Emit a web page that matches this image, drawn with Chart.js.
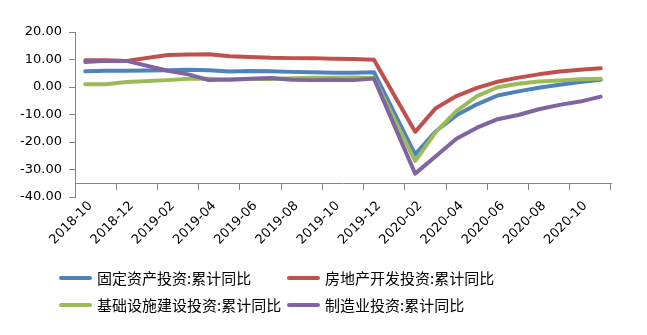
<!DOCTYPE html>
<html>
<head>
<meta charset="utf-8">
<script src="https://cdn.jsdelivr.net/npm/chart.js"></script>
<style>
  body { margin: 0; background: #fff; }
  #wrap { position: relative; width: 647px; height: 335px; }
  .legend { position: absolute; font-family: "Noto Sans CJK SC", sans-serif; font-size: 15px; color: #000; white-space: nowrap; display: flex; align-items: center; }
  .legend i { display: inline-block; width: 33px; height: 4px; border-radius: 2px; margin-right: 5px; }
</style>
</head>
<body>
<div id="wrap">
  <canvas id="invest-chart" width="647" height="335"></canvas>
</div>
<script>
// 月份（1月无单独数据，留空）
const months = [
  '2018-10', '2018-11', '2018-12',
  '2019-01', '2019-02', '2019-03', '2019-04', '2019-05', '2019-06',
  '2019-07', '2019-08', '2019-09', '2019-10', '2019-11', '2019-12',
  '2020-01', '2020-02', '2020-03', '2020-04', '2020-05', '2020-06',
  '2020-07', '2020-08', '2020-09', '2020-10', '2020-11'
];

const seriesNames = ['固定资产投资:累计同比', '房地产开发投资:累计同比', '基础设施建设投资:累计同比', '制造业投资:累计同比'];
const seriesColors = ['#4F81BD', '#C0504D', '#9BBB59', '#8064A2'];

const fixedAsset = [5.7, 5.9, 5.9, null, 6.1, 6.3, 6.1, 5.6, 5.8, 5.7, 5.5, 5.4, 5.2, 5.2, 5.4, null, -24.5, -16.1, -10.3, -6.3, -3.1, -1.6, -0.3, 0.8, 1.8, 2.6];
const realEstate = [9.7, 9.7, 9.5, null, 11.6, 11.8, 11.9, 11.2, 10.9, 10.6, 10.5, 10.5, 10.3, 10.2, 9.9, null, -16.3, -7.7, -3.3, -0.3, 1.9, 3.4, 4.6, 5.6, 6.3, 6.8];
const infra = [1.0, 1.0, 1.8, null, 2.5, 3.0, 3.0, 2.6, 2.9, 2.9, 3.2, 3.4, 3.4, 3.5, 3.3, null, -26.9, -16.4, -8.8, -3.3, -0.1, 1.2, 2.0, 2.4, 2.8, 3.0];
const manufacturing = [9.1, 9.5, 9.5, null, 5.9, 4.6, 2.5, 2.7, 3.0, 3.3, 2.6, 2.5, 2.6, 2.5, 3.1, null, -31.5, -25.2, -18.8, -14.8, -11.7, -10.2, -8.1, -6.5, -5.3, -3.5];

const yMin = -40;
const yMax = 20;
const yStep = 10;
const xAxisAt = -35;

const axisColor = '#868686';

function makeDataset(i, values) {
  return {
    label: seriesNames[i],
    data: values,
    borderColor: seriesColors[i],
    backgroundColor: seriesColors[i],
    borderWidth: 4,
    pointRadius: 0,
    tension: 0,
    spanGaps: true,
    borderJoinStyle: 'round',
    borderCapStyle: 'round',
    fill: false,
    order: 3 - i
  };
}

function buildLegend() {
  const wrap = document.getElementById('wrap');
  const spots = [[59, 267], [287, 267], [59, 294], [287, 294]];
  seriesNames.forEach(function(name, i) {
    const item = document.createElement('div');
    item.className = 'legend';
    item.style.left = spots[i][0] + 'px';
    item.style.top = spots[i][1] + 'px';
    item.innerHTML = `<i style="background:${seriesColors[i]}"></i><span>${name}</span>`;
    wrap.appendChild(item);
  });
}

function generateInvestChart() {
  const data = {
    labels: months,
    datasets: [
      makeDataset(0, fixedAsset),
      makeDataset(1, realEstate),
      makeDataset(2, infra),
      makeDataset(3, manufacturing)
    ]
  };

  const config = {
    type: 'line',
    data: data,
    options: {
      responsive: false,
      animation: false,
      layout: {
        padding: { top: 32, left: 0, right: 36, bottom: 138 }
      },
      plugins: {
        legend: { display: false },
        tooltip: { enabled: false }
      },
      scales: {
        x: {
          type: 'category',
          offset: true,
          position: { y: xAxisAt },
          border: { color: axisColor, width: 1 },
          grid: {
            offset: true,
            drawOnChartArea: false,
            drawTicks: true,
            tickLength: 6,
            color: ctx => (ctx.index === undefined || ctx.index % 2 === 0) ? axisColor : 'rgba(0,0,0,0)'
          },
          ticks: {
            autoSkip: false,
            maxRotation: 45,
            minRotation: 45,
            padding: 7,
            color: '#000',
            font: { family: 'DejaVu Sans', size: 13, lineHeight: 0.55 },
            // 空的第一行让旋转后的文字整体下移半行
            callback: function(value, index) {
              return index % 2 === 0 ? ['', months[index]] : '';
            }
          }
        },
        y: {
          min: yMin,
          max: yMax,
          border: { color: axisColor, width: 1 },
          grid: {
            drawOnChartArea: false,
            drawTicks: true,
            tickLength: 6,
            color: axisColor
          },
          ticks: {
            stepSize: yStep,
            padding: 7,
            color: '#000',
            font: { family: 'DejaVu Sans', size: 13 },
            callback: v => v.toFixed(2)
          },
          afterFit: function(scale) {
            scale.width = 75;
          }
        }
      }
    }
  };

  new Chart(document.getElementById('invest-chart'), config);
}

generateInvestChart();
buildLegend();
</script>
</body>
</html>
